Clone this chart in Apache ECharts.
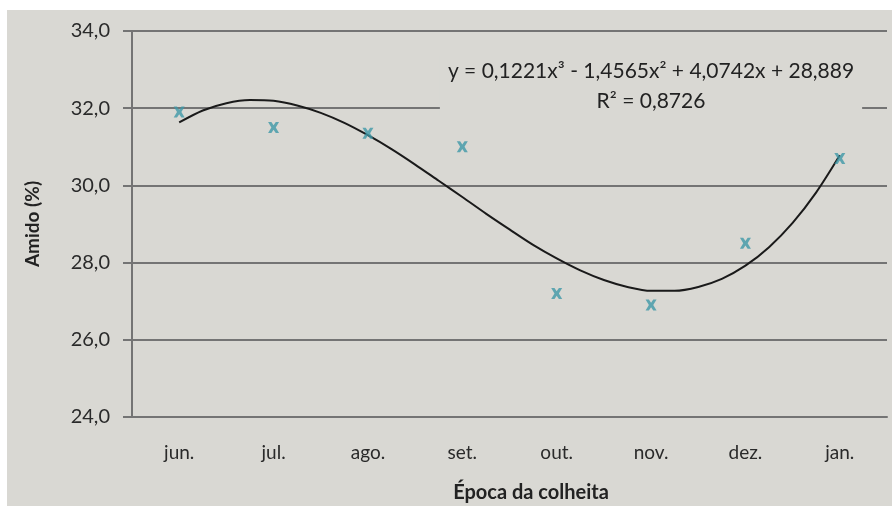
<!DOCTYPE html>
<html>
<head>
<meta charset="utf-8">
<script src="https://cdn.jsdelivr.net/npm/echarts@6/dist/echarts.min.js"></script>
<style>html,body{margin:0;padding:0;background:#fff;}#c{width:892px;height:506px;}</style>
</head>
<body>
<div id="c"></div>
<script>
var categories = ['jun.', 'jul.', 'ago.', 'set.', 'out.', 'nov.', 'dez.', 'jan.'];
var amido = [31.9, 31.5, 31.35, 31.0, 27.2, 26.9, 28.5, 30.7];
var trendX = [1, 1.25, 1.5, 1.75, 2, 2.25, 2.5, 2.75, 3, 3.25, 3.5, 3.75, 4, 4.25, 4.5, 4.75,
              5, 5.25, 5.5, 5.75, 6, 6.25, 6.5, 6.75, 7, 7.25, 7.5, 7.75, 8];
var trendY = [31.63, 31.94, 32.13, 32.21, 32.19, 32.07, 31.88, 31.62, 31.30, 30.94, 30.54, 30.12, 29.70, 29.27, 28.86, 28.46,
              28.11, 27.80, 27.55, 27.37, 27.27, 27.27, 27.37, 27.58, 27.92, 28.40, 29.03, 29.82, 30.78];
var yTicks = [24, 26, 28, 30, 32, 34];
var equationText = 'y = 0,1221x³ - 1,4565x² + 4,0742x + 28,889\nR² = 0,8726';

var BG = '#d9d8d3';
var FONT = 'Lato, "Open Sans", sans-serif';
var chart = echarts.init(document.getElementById('c'));
var trendData = trendX.map(function (x, i) { return [x, trendY[i]]; });

chart.setOption({
  backgroundColor: '#ffffff',
  animation: false,
  grid: { left: 132, right: 5, top: 31, bottom: 89, containLabel: false },
  graphic: [
    { type: 'rect', z: -10, silent: true, shape: { x: 7, y: 10, width: 885, height: 496 }, style: { fill: BG } },
    { type: 'text', z: 100, x: 531, y: 493,
      style: { text: 'Época da colheita', fontFamily: FONT, fontWeight: 'bold', fontSize: 20, fill: '#222',
        align: 'center', verticalAlign: 'middle' } },
    { type: 'text', z: 100, x: 651, y: 56,
      style: { text: equationText, fontFamily: FONT, fontSize: 21, fill: '#222', align: 'center',
        verticalAlign: 'top', lineHeight: 30, backgroundColor: BG, padding: [0, 8, 0, 8] } }
  ],
  xAxis: [
    { type: 'category', data: categories, boundaryGap: true,
      axisLine: { show: true, lineStyle: { color: '#747474', width: 2 } },
      axisTick: { show: false },
      axisLabel: { color: '#2a2a2a', fontSize: 19, fontFamily: FONT, margin: 26 },
      splitLine: { show: false } },
    { type: 'value', min: 0.5, max: 8.5, show: false }
  ],
  yAxis: {
    type: 'value', min: 24, max: 34, interval: 2,
    name: 'Amido (%)', nameLocation: 'middle', nameGap: 90, nameRotate: 90,
    nameTextStyle: { fontFamily: FONT, fontWeight: 'bold', fontSize: 19, color: '#222' },
    axisLine: { show: true, lineStyle: { color: '#747474', width: 2 } },
    axisTick: { show: true, length: 9, lineStyle: { color: '#747474', width: 2 } },
    axisLabel: { color: '#2a2a2a', fontSize: 20, fontFamily: FONT, margin: 22,
      formatter: function (v) { return yTicks.indexOf(v) >= 0 ? v.toFixed(1).replace('.', ',') : ''; } },
    splitLine: { show: true, lineStyle: { color: '#747474', width: 2 } }
  },
  series: [
    { type: 'line', xAxisIndex: 1, data: trendData, smooth: 0.3, showSymbol: false,
      lineStyle: { color: '#1a1a1a', width: 2 }, z: 3 },
    { type: 'scatter', xAxisIndex: 0, data: amido, symbol: 'path://M0,0 L3,0 L5,3 L7,0 L10,0 L7,5 L10,10 L7,10 L5,7 L3,10 L0,10 L3,5 Z',
      symbolSize: [11, 11], itemStyle: { color: '#3f98a8' }, z: 4 }
  ]
});
</script>
</body>
</html>
